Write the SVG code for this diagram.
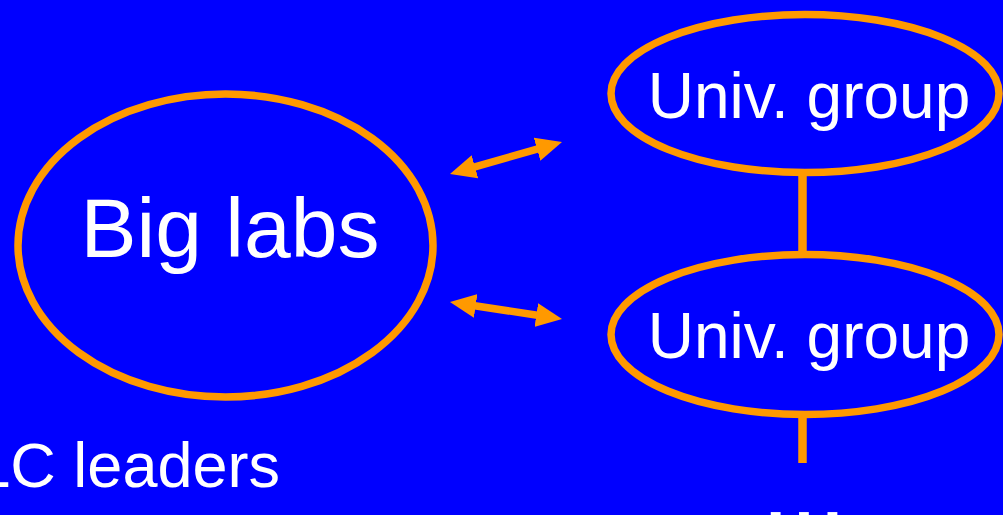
<svg xmlns="http://www.w3.org/2000/svg" width="1003" height="515" viewBox="0 0 1003 515">
<style>
.node{fill:none;stroke:#FF9900;stroke-width:7.5}
.lbl{fill:#FFFFFF;font-family:"Liberation Sans",Arial,sans-serif}
.link{stroke:#FF9900;stroke-width:8.5;fill:none}
.arr{stroke:#FF9900;stroke-width:7.5;fill:none;marker-start:url(#ah);marker-end:url(#ah)}
</style>
<defs>
<marker id="ah" viewBox="0 0 26 24" refX="11" refY="12" markerWidth="26" markerHeight="24" markerUnits="userSpaceOnUse" orient="auto-start-reverse">
<path d="M0,0 L26,12 L0,24 z" fill="#FF9900"/>
</marker>
</defs>
<rect x="0" y="0" width="1003" height="515" fill="#0000FF"/>
<g id="connectors">
<line class="link" x1="802.5" y1="172" x2="802.5" y2="255"/>
<line class="link" x1="802.5" y1="413" x2="802.5" y2="463"/>
<line class="arr" x1="464.4" y1="169.9" x2="547.6" y2="146.1"/>
<line class="arr" x1="464.8" y1="304.3" x2="547.2" y2="316.7"/>
</g>
<g id="big-labs">
<ellipse class="node" cx="225.5" cy="245.5" rx="207.5" ry="151.5"/>
<text class="lbl" x="230" y="257" font-size="84" text-anchor="middle">Big labs</text>
</g>
<g id="univ-group-1">
<ellipse class="node" cx="805" cy="93.5" rx="194" ry="79"/>
<text class="lbl" x="809" y="118" font-size="64" text-anchor="middle">Univ. group</text>
</g>
<g id="univ-group-2">
<ellipse class="node" cx="805" cy="334.5" rx="194" ry="80"/>
<text class="lbl" x="809" y="358" font-size="64" text-anchor="middle">Univ. group</text>
</g>
<g id="lc-leaders">
<text class="lbl" x="280" y="487" font-size="63" text-anchor="end">LC leaders</text>
</g>
<g id="more">
<text class="lbl" x="804" y="523" font-size="102" text-anchor="middle">...</text>
</g>
</svg>
